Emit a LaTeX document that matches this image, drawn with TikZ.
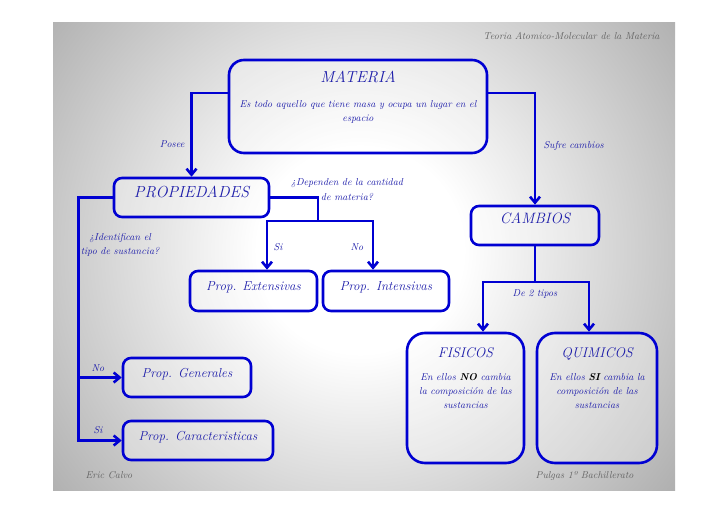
\documentclass[tikz,border=0pt]{standalone}
\usetikzlibrary{positioning,arrows.meta}
\definecolor{azul}{RGB}{0,0,210}
\definecolor{tinta}{RGB}{30,30,170}
\definecolor{lapiz}{RGB}{100,100,100}
\pgfdeclareradialshading{fondo}{\pgfpoint{0bp}{0bp}}{color(0bp)=(white); color(6bp)=(white); color(24bp)=(black!33); color(36bp)=(black!50); color(50bp)=(black!62)}
\tikzset{
>={Straight Barb[length=6pt,width=10pt]}, % chevron arrow heads
x=1pt, y=-1pt, % one unit is one pixel of the slide, y downwards
every node/.style={align=center,text=tinta},
caja/.style={draw=azul,line width=2.6pt,rounded corners=8pt,fill=white,fill opacity=0.3,text opacity=1,text height=8pt,text depth=9pt},
conector/.style={draw=azul,line width=2.6pt},
etiqueta/.style={font=\fontsize{10}{14}\selectfont\itshape},
titulo/.style={font=\fontsize{16}{19}\selectfont\itshape},
subtitulo/.style={font=\fontsize{13}{16}\selectfont\itshape},
firma/.style={text=lapiz,font=\fontsize{10}{12}\selectfont\itshape}
}
\newcommand\hneg[1]{\textbf{\textcolor{black}{#1}}}

\begin{document}
\begin{tikzpicture}
   \useasboundingbox (0,0) rectangle (728,516);
   \begin{scope}
      \clip (53,23) rectangle (675,490);
      \shade[shading=fondo] (360,250) circle (430);
   \end{scope}
   \node[firma, anchor=base east] (tema) at (663,40) {Teoria Atomico-Molecular de la Materia};
   \node[firma, anchor=base west] (autor) at (82,478) {Eric Calvo};
   \node[firma, anchor=base east] (curso) at (637,478) {Pulgas 1º Bachillerato};

   % cajas
   \node[caja, rounded corners=15pt, minimum width=258pt, minimum height=93pt] (materia) at (358,106.5) {};
   \node[titulo, anchor=base] (materiatit) at (358,83) {MATERIA};
   \node[etiqueta, anchor=base] (materiadef) at (358,122) {Es todo aquello que tiene masa y ocupa un lugar en el\\espacio};
   \node[caja, titulo, minimum width=155pt, minimum height=39pt] (propiedades) at (191.5,197.5) {PROPIEDADES};
   \node[caja, subtitulo, minimum width=127pt, minimum height=40pt] (extensivas) at (253.5,291) {Prop. Extensivas};
   \node[caja, subtitulo, minimum width=126pt, minimum height=40pt] (intensivas) at (386,291) {Prop. Intensivas};
   \node[caja, subtitulo, minimum width=128pt, minimum height=39pt] (generales) at (187,377.5) {Prop. Generales};
   \node[caja, subtitulo, minimum width=150pt, minimum height=39pt] (caracteristicas) at (198,440.5) {Prop. Caracteristicas};
   \node[caja, titulo, font=\fontsize{15}{18}\selectfont\itshape, text depth=12pt, minimum width=128pt, minimum height=39pt] (cambios) at (535,225.5) {CAMBIOS};
   \node[caja, rounded corners=18pt, minimum width=117pt, minimum height=130pt] (fisicos) at (465.5,398) {};
   \node[subtitulo, font=\fontsize{14}{17}\selectfont\itshape, anchor=base] (fisicostit) at (465.5,357) {FISICOS};
   \node[etiqueta, anchor=base] (fisicosdef) at (465.5,408) {En ellos \hneg{NO} cambia\\la composición de las\\sustancias};
   \node[caja, rounded corners=18pt, minimum width=120pt, minimum height=130pt] (quimicos) at (597,398) {};
   \node[subtitulo, font=\fontsize{14}{17}\selectfont\itshape, anchor=base] (quimicostit) at (597,357) {QUIMICOS};
   \node[etiqueta, anchor=base] (quimicosdef) at (597,408) {En ellos \hneg{SI} cambia la\\composición de las\\sustancias};

   % conectores
   \coordinate (rama) at (318,221);
   \coordinate (tipos) at (535,282);
   \draw[conector,->] ([yshift=13.5pt]materia.west) -| (propiedades);
   \draw[conector,->] ([yshift=13.5pt]materia.east) -| (cambios);
   \draw[conector] (propiedades.east) -| (rama);
   \draw[conector,->] (rama) -| ([xshift=13.5pt]extensivas.north);
   \draw[conector,->] (rama) -| ([xshift=-13pt]intensivas.north);
   \draw[conector,->] (propiedades.west) -| ([xshift=-43pt]caracteristicas.west) -- (caracteristicas.west);
   \draw[conector,->] ([xshift=-43pt]generales.west) -- (generales.west);
   \draw[conector] (cambios) -- (tipos);
   \draw[conector,->] (tipos) -| ([xshift=17.5pt]fisicos.north);
   \draw[conector,->] (tipos) -| ([xshift=-8pt]quimicos.north);

   % etiquetas
   \node[etiqueta, anchor=base east] (posee) at (188,148) {Posee};
   \node[etiqueta, anchor=base west] (sufre) at (540,149) {Sufre cambios};
   \node[etiqueta, anchor=base] (dependen) at (347,200) {¿Dependen de la cantidad\\de materia?};
   \node[etiqueta, anchor=base] (si1) at (278,250) {Si};
   \node[etiqueta, anchor=base] (no1) at (357,250) {No};
   \node[etiqueta, anchor=base] (identifican) at (120,254) {¿Identifican el\\tipo de sustancia?};
   \node[etiqueta, anchor=base] (no2) at (98,371) {No};
   \node[etiqueta, anchor=base] (si2) at (98,433) {Si};
   \node[etiqueta, anchor=base] (dos) at (535,296) {De 2 tipos};
\end{tikzpicture}
\end{document}
